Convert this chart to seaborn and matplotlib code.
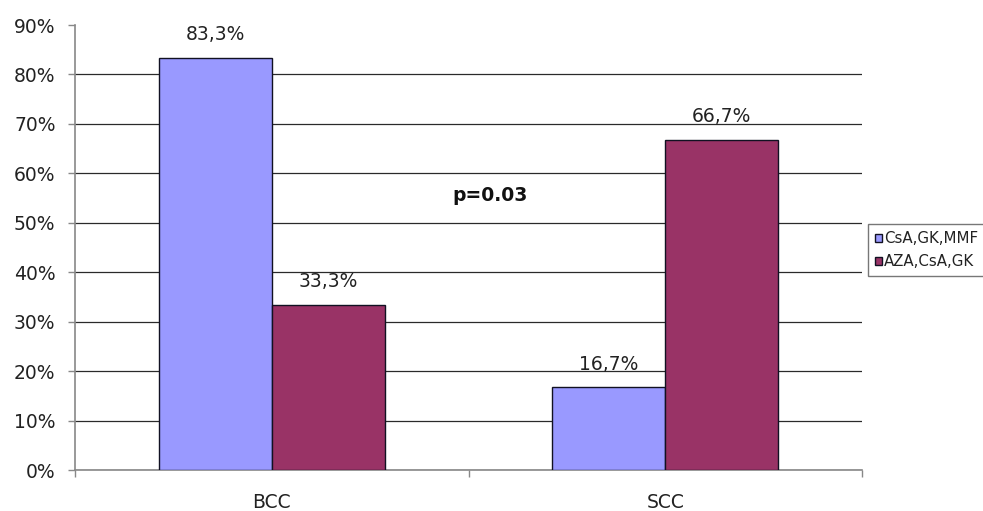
import matplotlib
matplotlib.use("Agg")
import matplotlib.pyplot as plt
import seaborn as sns
import pandas as pd

# Chart data
categories = ["BCC", "SCC"]
series_names = ["CsA,GK,MMF", "AZA,CsA,GK"]
series_a = [83.3, 16.7]   # CsA,GK,MMF
series_b = [33.3, 66.7]   # AZA,CsA,GK
y_ticks = [0, 10, 20, 30, 40, 50, 60, 70, 80, 90]
p_text = "p=0.03"

df = pd.DataFrame({
    "cat": categories * 2,
    "group": [series_names[0]] * 2 + [series_names[1]] * 2,
    "value": series_a + series_b,
})

sns.set_theme(style="white")
plt.rcParams["font.family"] = ["DejaVu Sans"]

FS = 13.5
TXT = "#222222"

fig = plt.figure(figsize=(9.83, 5.11), dpi=100)
ax = fig.add_axes([0.0763, 0.0802, 0.8007, 0.8708])

palette = {series_names[0]: "#9999FF", series_names[1]: "#993366"}
sns.barplot(data=df, x="cat", y="value", hue="group", order=categories,
            hue_order=series_names, palette=palette, width=0.575,
            saturation=1, edgecolor="#111122", linewidth=1.0, ax=ax,
            legend=True, zorder=3)

ax.set_xlim(-0.5, 1.5)
ax.set_ylim(0, 90)
ax.set_yticks(y_ticks)
ax.set_yticklabels([f"{t}%" for t in y_ticks], fontsize=FS, color=TXT)
ax.yaxis.grid(True, color="#2a2a2a", linewidth=0.9, zorder=0)
ax.set_axisbelow(True)
# no gridline along the top edge of the plot area
ax.yaxis.get_gridlines()[-1].set_visible(False)

# Category boundaries carry the x tick marks; labels sit between them
ax.set_xticks([-0.5, 0.5, 1.5])
ax.set_xticklabels([])
ax.tick_params(axis="x", direction="out", length=5, color="#888888", width=1, bottom=True)
ax.tick_params(axis="y", direction="out", length=5, color="#888888", width=1, left=True, pad=9)
for i, c in enumerate(categories):
    ax.text(i, -4.6, c, ha="center", va="top", fontsize=FS, color=TXT)

ax.set_xlabel("")
ax.set_ylabel("")
for side in ["top", "right"]:
    ax.spines[side].set_visible(False)
ax.spines["left"].set_color("#888888")
ax.spines["bottom"].set_color("#888888")
ax.spines["left"].set_linewidth(1.2)
ax.spines["bottom"].set_linewidth(1.2)

# Value labels above each bar
for container in ax.containers:
    labels = [f"{v:.1f}%".replace(".", ",") for v in container.datavalues]
    ax.bar_label(container, labels=labels, padding=10, fontsize=FS, color=TXT)

ax.text(0.555, 55.6, p_text, ha="center", va="center", fontsize=FS,
        fontweight="bold", color="#111111")

leg = ax.legend(loc="center left", bbox_to_anchor=(1.0076, 0.494), fontsize=10.8,
                frameon=True, fancybox=False, edgecolor="#555555",
                handlelength=0.45, handleheight=0.45, handletextpad=0.15,
                borderpad=0.45, labelspacing=0.55, borderaxespad=0)
leg.get_frame().set_linewidth(1.0)
for t in leg.get_texts():
    t.set_color(TXT)

fig.savefig("out.png", dpi=100)
